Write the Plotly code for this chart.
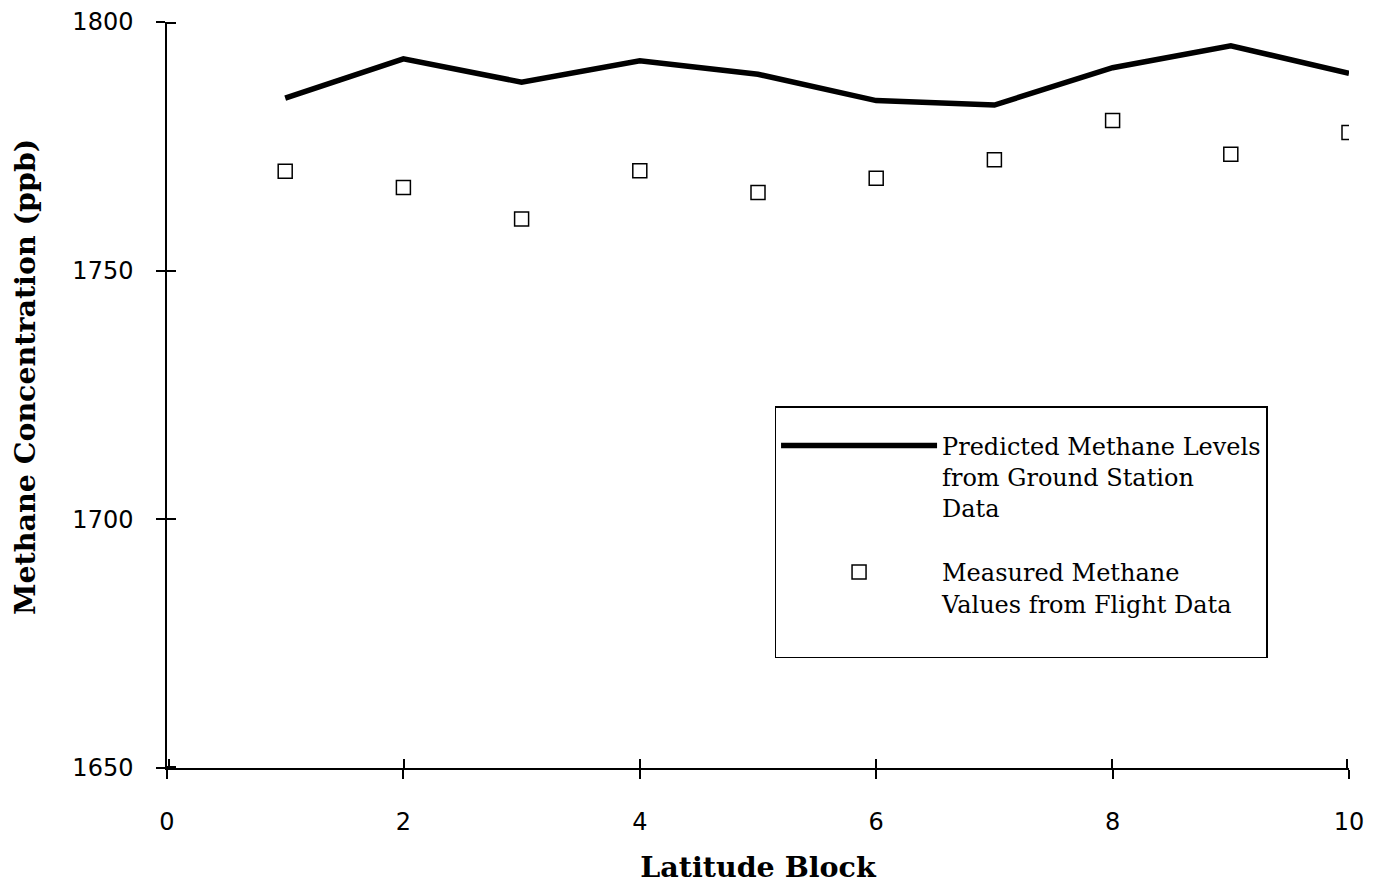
import plotly.graph_objects as go

latitude_block = [1, 2, 3, 4, 5, 6, 7, 8, 9, 10]
predicted_ground = [1784.7, 1792.6, 1787.9, 1792.2, 1789.5, 1784.2, 1783.3, 1790.8, 1795.2, 1789.7]
measured_flight = [1770.0, 1766.7, 1760.4, 1770.1, 1765.7, 1768.6, 1772.3, 1780.2, 1773.4, 1777.8]
x_ticks = [0, 2, 4, 6, 8, 10]
y_ticks = [1650, 1700, 1750, 1800]

fig = go.Figure()
fig.add_trace(go.Scatter(
    x=latitude_block, y=predicted_ground, mode="lines", legendgroup="pred",
    name="Predicted Methane Levels<br>from Ground Station<br>Data",
    line=dict(color="black", width=5.5),
))
fig.add_trace(go.Scatter(
    x=latitude_block, y=measured_flight, mode="markers", legendgroup="meas",
    name="Measured Methane<br>Values from Flight Data<br>&nbsp;",
    marker=dict(symbol="square-open", size=14, color="black", line=dict(width=1.5, color="black")),
))
# invisible traces on overlay axes so the inward half of the crossing ticks renders
fig.add_trace(go.Scatter(
    x=latitude_block, y=measured_flight, xaxis="x", yaxis="y2", mode="markers",
    marker=dict(opacity=0), showlegend=False, hoverinfo="skip",
))
fig.add_trace(go.Scatter(
    x=latitude_block, y=measured_flight, xaxis="x2", yaxis="y", mode="markers",
    marker=dict(opacity=0), showlegend=False, hoverinfo="skip",
))

tickfont = dict(family="DejaVu Sans", size=24, color="black")
titlefont = dict(family="DejaVu Serif", size=28.5, color="black")
fig.update_layout(
    width=1370, height=876,
    margin=dict(l=159, r=29, t=14, b=116),
    paper_bgcolor="white", plot_bgcolor="white",
    showlegend=True,
    legend=dict(
        x=0.514, y=0.485, xanchor="left", yanchor="top",
        bordercolor="black", borderwidth=1.5, bgcolor="white",
        font=dict(family="DejaVu Serif", size=24, color="black"),
        itemwidth=156, tracegroupgap=30, traceorder="grouped", valign="top",
        title=dict(text="&nbsp;", font=dict(size=12)),
    ),
    xaxis=dict(
        range=[0, 10], tickvals=x_ticks, ticks="outside", ticklen=9, tickwidth=1.5,
        tickcolor="black", showline=True, linecolor="black", linewidth=2,
        showgrid=False, zeroline=False, tickfont=tickfont, ticklabelstandoff=22,
        automargin=False,
        title=dict(text="<b>Latitude Block</b>", standoff=40, font=titlefont),
    ),
    yaxis=dict(
        range=[1650, 1800], tickvals=y_ticks, ticks="outside", ticklen=9, tickwidth=1.5,
        tickcolor="black", showline=True, linecolor="black", linewidth=1.5,
        showgrid=False, zeroline=False, tickfont=tickfont, ticklabelstandoff=18,
        automargin=False,
        title=dict(text="&nbsp;&nbsp;&nbsp;&nbsp;<b>Methane Concentration (ppb)</b>",
                   standoff=29, font=titlefont),
    ),
    xaxis2=dict(range=[-0.015, 10.015], tickvals=x_ticks, ticks="inside", ticklen=9, tickwidth=1.5,
                tickcolor="black", showticklabels=False, showgrid=False, zeroline=False,
                overlaying="x", anchor="y", side="bottom", showline=False, automargin=False),
    yaxis2=dict(range=[1649.7, 1800.3], tickvals=y_ticks, ticks="inside", ticklen=9, tickwidth=1.5,
                tickcolor="black", showticklabels=False, showgrid=False, zeroline=False,
                overlaying="y", anchor="x", side="left", showline=False, automargin=False),
)

fig.write_html("out.html")
